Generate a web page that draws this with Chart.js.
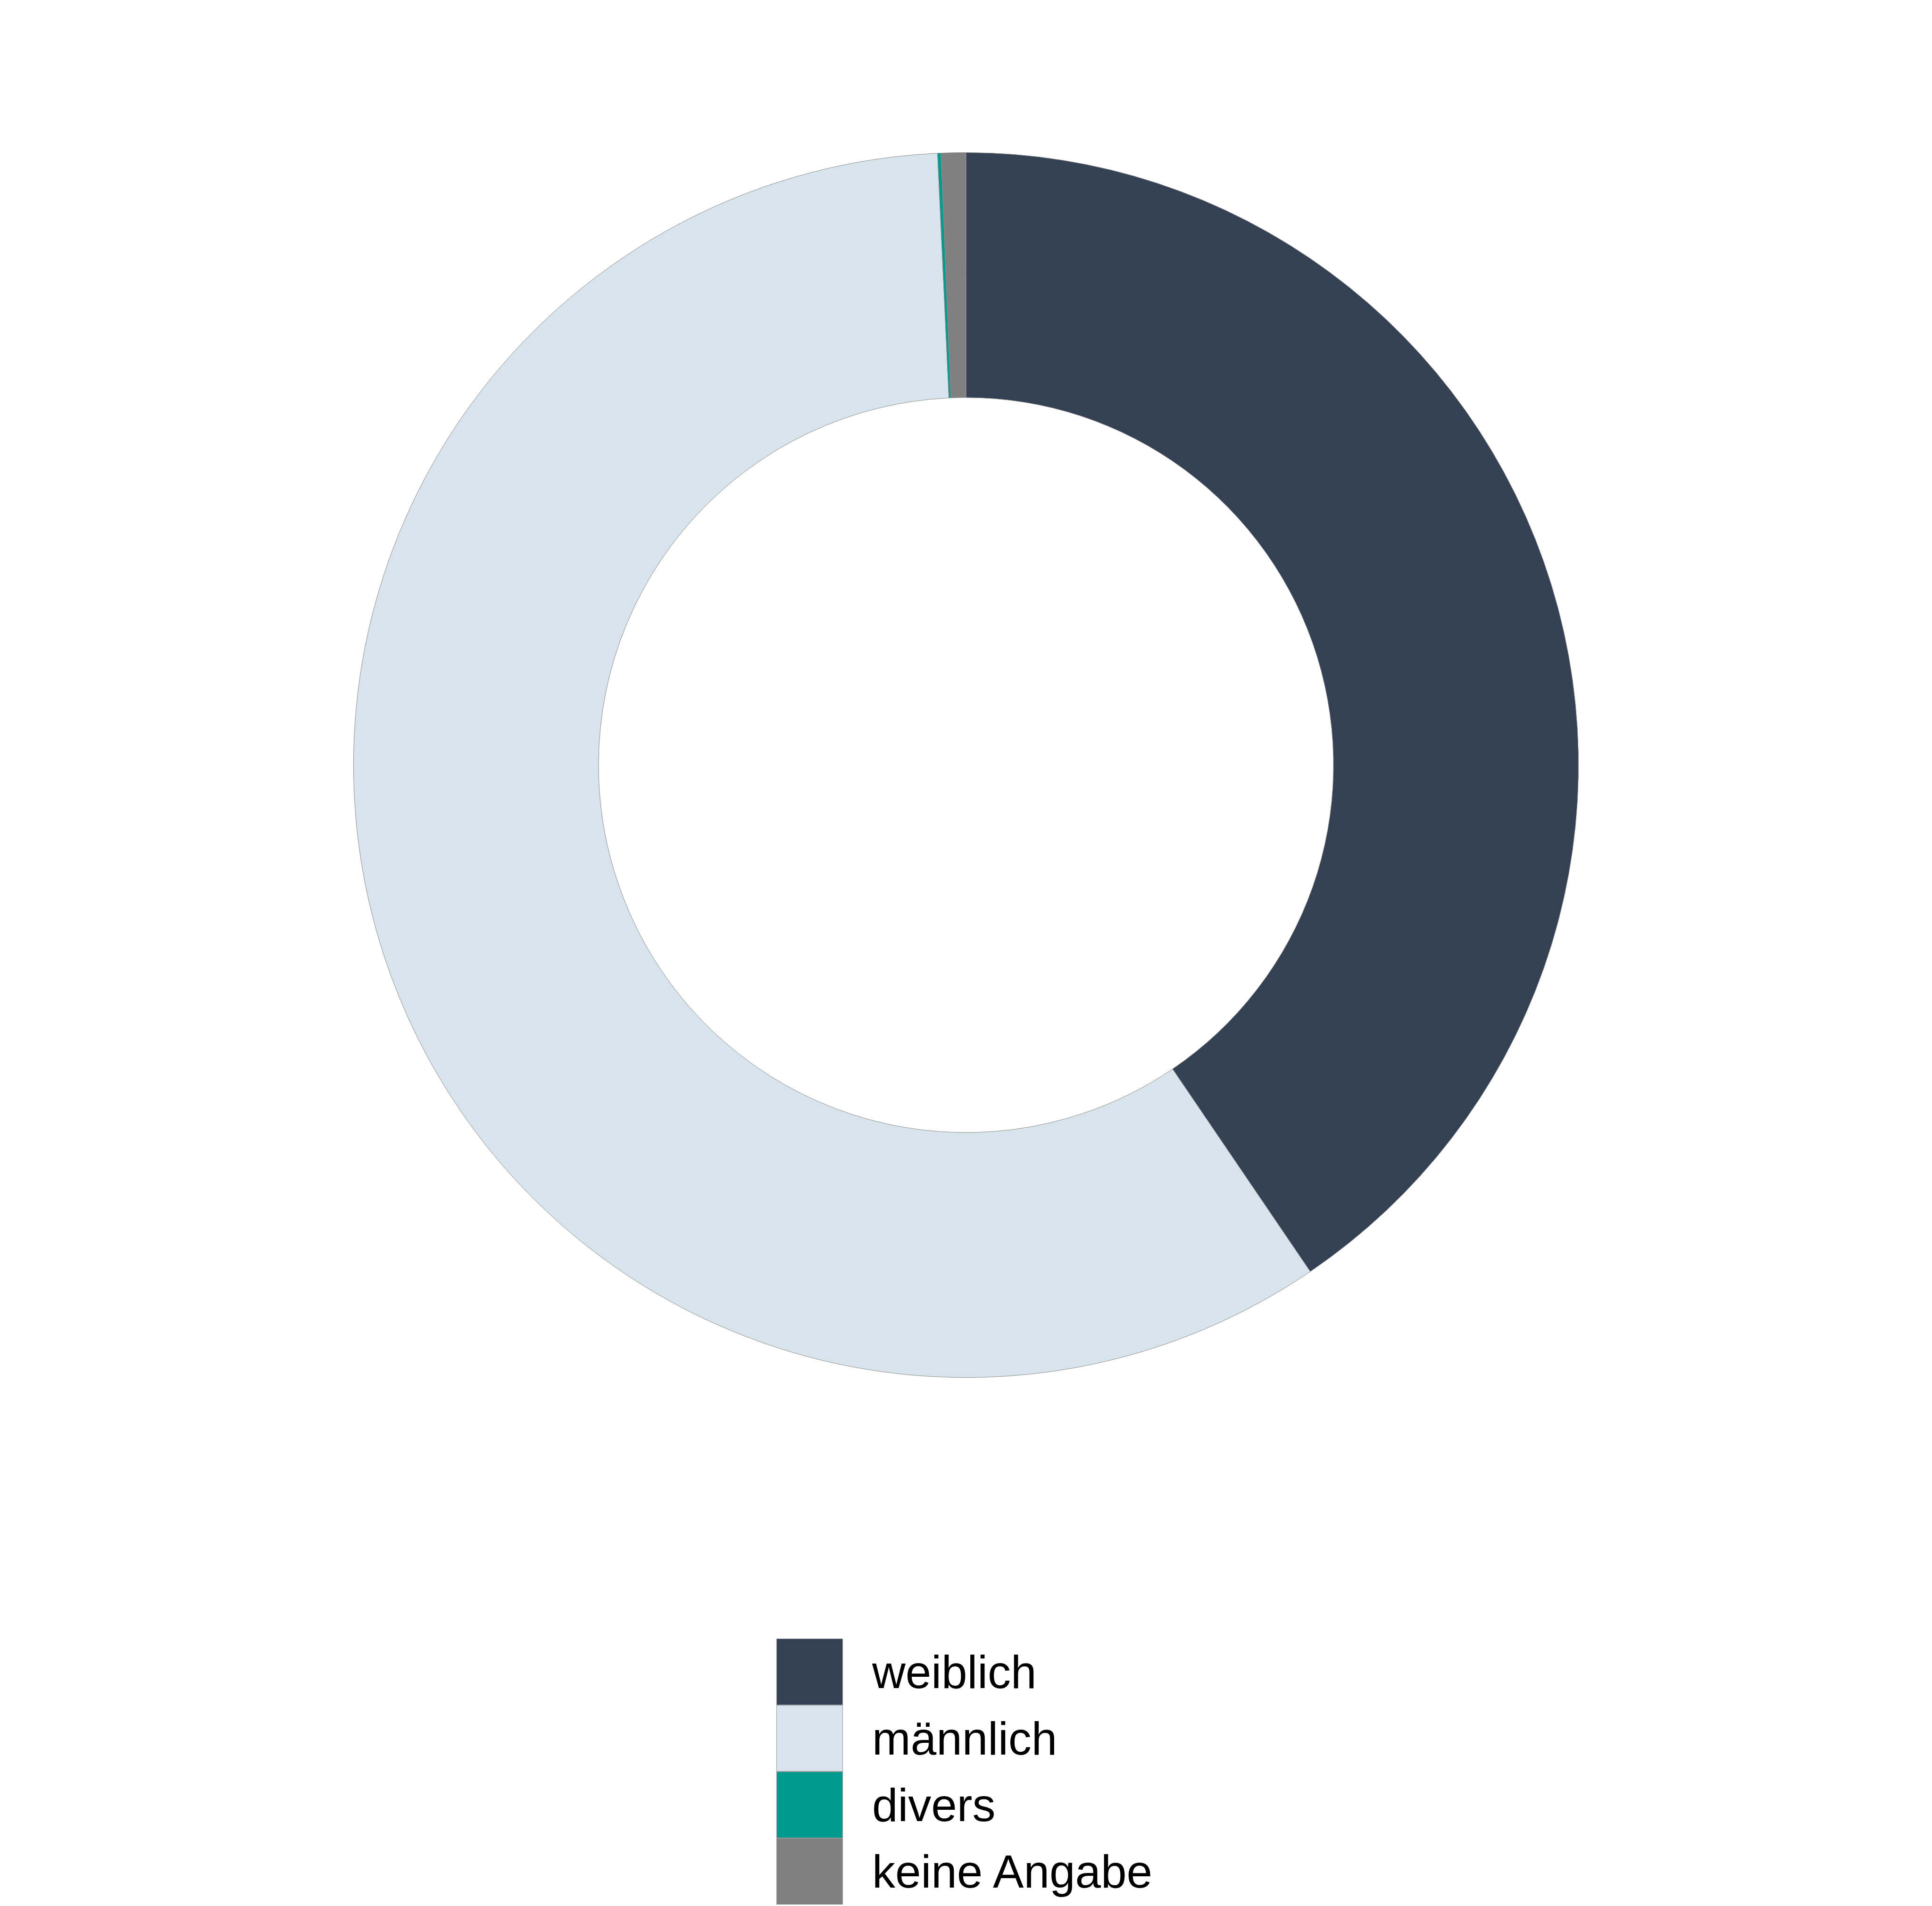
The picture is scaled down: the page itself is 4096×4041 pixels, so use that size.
<!DOCTYPE html>
<html>
<head>
<meta charset="utf-8">
<script src="https://cdn.jsdelivr.net/npm/chart.js@4/dist/chart.umd.min.js"></script>
<style>
  html, body { margin: 0; padding: 0; background: #ffffff; overflow: hidden; }
  #wrap { position: relative; width: 4096px; height: 4041px; }
  #chartBox { position: absolute; left: 0; top: 0; width: 4096px; height: 3244px; }
  #legend { position: absolute; left: 1646px; top: 3474px; font-family: "Liberation Sans", Arial, sans-serif; font-size: 98px; color: #000; }
  .row { display: flex; align-items: center; height: 141px; }
  .sw { width: 141px; height: 141px; box-sizing: border-box; border: 1px solid #999999; margin-right: 62px; }
  .lbl { line-height: 1; white-space: nowrap; }
</style>
</head>
<body>
<div id="wrap">
  <div id="chartBox"><canvas id="c"></canvas></div>
  <div id="legend"></div>
</div>
<script>
const categories = ["weiblich", "männlich", "divers", "keine Angabe"];
const values = [40.5, 58.76, 0.09, 0.65];
const colors = ["#344154", "#d8e4ec", "#009b8f", "#808080"];

const ctx = document.getElementById('c');
new Chart(ctx, {
  type: 'doughnut',
  data: {
    labels: categories,
    datasets: [{
      data: values,
      backgroundColor: colors,
      borderColor: '#8c8c8c',
      borderWidth: 1,
      hoverOffset: 0,
      offset: 0
    }]
  },
  options: {
    responsive: true,
    maintainAspectRatio: false,
    devicePixelRatio: 1,
    animation: false,
    cutout: '60%',
    layout: { padding: 323 },
    plugins: {
      legend: { display: false },
      tooltip: { enabled: false }
    }
  }
});

const leg = document.getElementById('legend');
categories.forEach((name, i) => {
  const row = document.createElement('div');
  row.className = 'row';
  const sw = document.createElement('div');
  sw.className = 'sw';
  sw.style.background = colors[i];
  const lbl = document.createElement('span');
  lbl.className = 'lbl';
  lbl.textContent = name;
  row.appendChild(sw);
  row.appendChild(lbl);
  leg.appendChild(row);
});
</script>
</body>
</html>
